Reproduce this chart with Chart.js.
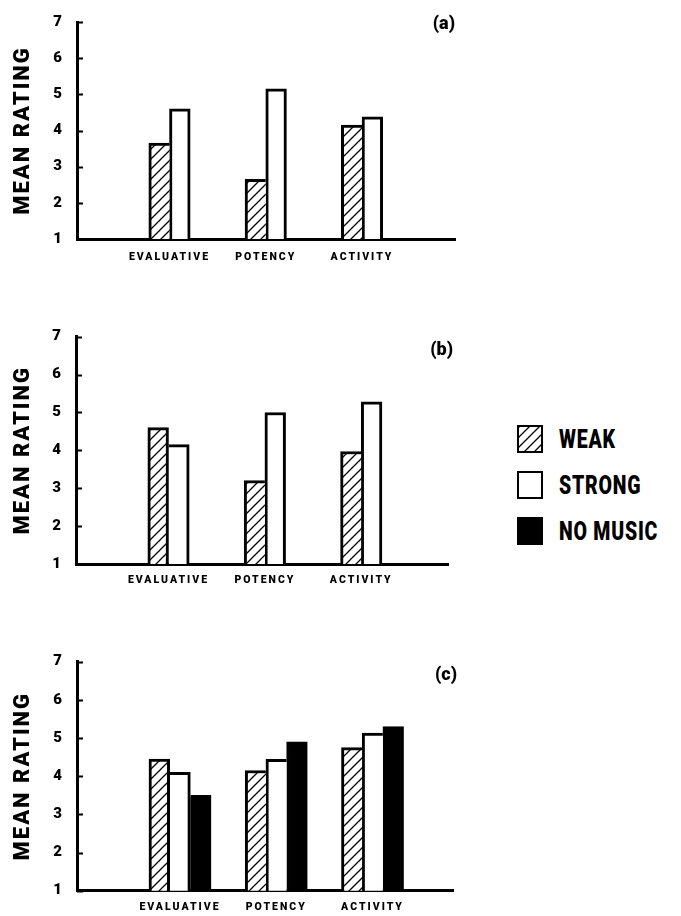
<!DOCTYPE html>
<html>
<head>
<meta charset="utf-8">
<title>Mean rating</title>
<script src="https://cdn.jsdelivr.net/npm/chart.js@4.4.1/dist/chart.umd.min.js"></script>
<style>
  body { margin: 0; background: #fff; width: 681px; height: 916px; position: relative; overflow: hidden; }
  .panel { position: absolute; left: 0; width: 470px; }
  #legend { position: absolute; left: 517px; top: 425px; font-family: Roboto, 'Liberation Sans', sans-serif; font-weight: 900; font-size: 25px; letter-spacing: 1px; color: #000; }
  .item { position: absolute; left: 0; height: 29px; white-space: nowrap; }
  .swatch { position: absolute; left: 0; top: 0; width: 22px; height: 24px; border: 2.5px solid #000; }
  .item span { position: absolute; left: 42px; top: 0; line-height: 29px; transform: scaleX(0.78); transform-origin: 0 50%; }
</style>
</head>
<body>
<div class="panel" style="top:0;height:285px"><canvas id="chartA"></canvas></div>
<div class="panel" style="top:290px;height:310px"><canvas id="chartB"></canvas></div>
<div class="panel" style="top:600px;height:316px"><canvas id="chartC"></canvas></div>
<div id="legend"></div>
<script>
// data
const categories = ['EVALUATIVE', 'POTENCY', 'ACTIVITY'];
const seriesNames = ['WEAK', 'STRONG', 'NO MUSIC'];
const yTicks = [1, 2, 3, 4, 5, 6, 7];

const weakA = [3.65, 2.65, 4.15];
const strongA = [4.6, 5.15, 4.38];

const weakB = [4.6, 3.2, 3.97];
const strongB = [4.15, 5.0, 5.28];

const weakC = [4.45, 4.15, 4.75];
const strongC = [4.1, 4.44, 5.13];
const noMusicC = [3.5, 4.9, 5.3];

const FONT = "Roboto, 'Liberation Sans', sans-serif";
const BW = 3;

function hatchCanvas() {
    const c = document.createElement('canvas');
    c.width = 10; c.height = 10;
    const g = c.getContext('2d');
    g.fillStyle = '#fff';
    g.fillRect(0, 0, 10, 10);
    g.strokeStyle = '#000';
    g.lineWidth = 1.3;
    g.beginPath();
    g.moveTo(-2, 12); g.lineTo(12, -2);
    g.moveTo(-2, 2); g.lineTo(2, -2);
    g.moveTo(8, 12); g.lineTo(12, 8);
    g.stroke();
    return c;
}
const hatch = hatchCanvas();
const hatchFill = hatch.getContext('2d').createPattern(hatch, 'repeat');
const fills = [hatchFill, '#ffffff', '#000000'];

// shared edge between neighbouring bars is drawn only by the taller one
function edges(series) {
    return function (ctx) {
        const d = ctx.datasetIndex, i = ctx.dataIndex, v = series[d][i];
        const left = (d === 0 || v > series[d - 1][i]) ? BW : 0;
        const right = (d === series.length - 1 || v >= series[d + 1][i]) ? BW : 0;
        return { top: BW, left: left, right: right, bottom: 0 };
    };
}

const inwardTicks = {
    id: 'inwardTicks',
    afterDraw(chart) {
        const y = chart.scales.y, ctx = chart.ctx, left = chart.chartArea.left;
        ctx.save();
        ctx.strokeStyle = '#000';
        ctx.lineWidth = 2;
        y.ticks.forEach(t => {
            const py = Math.round(y.getPixelForValue(t.value)) + 0.5;
            ctx.beginPath();
            ctx.moveTo(left, py);
            ctx.lineTo(left + 6, py);
            ctx.stroke();
        });
        ctx.restore();
    }
};

const spacing = {
    id: 'spacing',
    beforeDraw(chart) { chart.ctx.letterSpacing = '2px'; },
    afterDraw(chart) { chart.ctx.letterSpacing = '0px'; }
};

const panelTag = {
    id: 'panelTag',
    afterDraw(chart, args, opts) {
        const ctx = chart.ctx;
        ctx.save();
        ctx.font = '900 18px ' + FONT;
        ctx.fillStyle = '#000';
        ctx.textAlign = 'right';
        ctx.textBaseline = 'middle';
        ctx.fillText(opts.text, opts.x, opts.y);
        ctx.restore();
    }
};

const panels = [
    { id: 'chartA', tag: '(a)', tagX: 455, tagY: 24, series: [weakA, strongA], height: 285,
      area: { left: 77, right: 455, top: 14, bottom: 239 }, xMin: 0.039, xMax: 3.966, labelPad: 12 },
    { id: 'chartB', tag: '(b)', tagX: 453, tagY: 60, series: [weakB, strongB], height: 310,
      area: { left: 76, right: 448, top: 46.7, bottom: 274 }, xMin: 0.04, xMax: 3.9, labelPad: 10 },
    { id: 'chartC', tag: '(c)', tagX: 457, tagY: 75, series: [weakC, strongC, noMusicC], height: 316,
      area: { left: 77, right: 453, top: 61.7, bottom: 290.7 }, xMin: -0.07, xMax: 3.836, labelPad: 10 }
];

panels.forEach(function (p) {
    new Chart(document.getElementById(p.id), {
        type: 'bar',
        data: {
            datasets: p.series.map((vals, d) => ({
                label: seriesNames[d],
                data: vals.map((v, i) => ({ x: i + 1, y: v })),
                backgroundColor: fills[d],
                borderColor: '#000',
                borderWidth: edges(p.series),
                borderSkipped: 'start',
                barThickness: 20.7
            }))
        },
        options: {
            responsive: true,
            maintainAspectRatio: false,
            animation: false,
            events: [],
            layout: { padding: { top: p.area.top, right: 470 - p.area.right, left: 0, bottom: 0 } },
            scales: {
                x: {
                    type: 'linear',
                    min: p.xMin,
                    max: p.xMax,
                    offset: false,
                    grid: { display: false, drawTicks: false },
                    border: { display: true, width: 3, color: '#000' },
                    ticks: {
                        padding: p.labelPad,
                        color: '#000',
                        autoSkip: false,
                        maxRotation: 0,
                        font: { family: FONT, weight: '900', size: 10.5 },
                        callback: (v, i) => categories[i]
                    },
                    afterBuildTicks: s => { s.ticks = categories.map((c, i) => ({ value: i + 1 })); },
                    afterFit: s => { s.height = p.height - p.area.bottom; }
                },
                y: {
                    min: yTicks[0],
                    max: yTicks[yTicks.length - 1],
                    grid: { display: false, drawTicks: false },
                    border: { display: true, width: 3, color: '#000' },
                    ticks: {
                        stepSize: 1,
                        padding: 13,
                        color: '#000',
                        font: { family: FONT, weight: '900', size: 15 }
                    },
                    title: {
                        display: true,
                        text: 'MEAN RATING',
                        color: '#000',
                        padding: { top: 10, bottom: 0 },
                        font: { family: FONT, weight: '900', size: 22 }
                    },
                    afterFit: s => { s.width = p.area.left; }
                }
            },
            plugins: {
                legend: { display: false },
                tooltip: { enabled: false },
                panelTag: { text: p.tag, x: p.tagX, y: p.tagY }
            }
        },
        plugins: [spacing, inwardTicks, panelTag]
    });
});

// legend
const legendTops = [0, 46, 92];
const swatchBg = ['url(' + hatch.toDataURL() + ')', '#fff', '#000'];
const legendEl = document.getElementById('legend');
seriesNames.forEach(function (name, i) {
    const item = document.createElement('div');
    item.className = 'item';
    item.style.top = legendTops[i] + 'px';
    const sw = document.createElement('div');
    sw.className = 'swatch';
    sw.style.background = swatchBg[i];
    const label = document.createElement('span');
    label.textContent = name;
    item.appendChild(sw);
    item.appendChild(label);
    legendEl.appendChild(item);
});
</script>
</body>
</html>
